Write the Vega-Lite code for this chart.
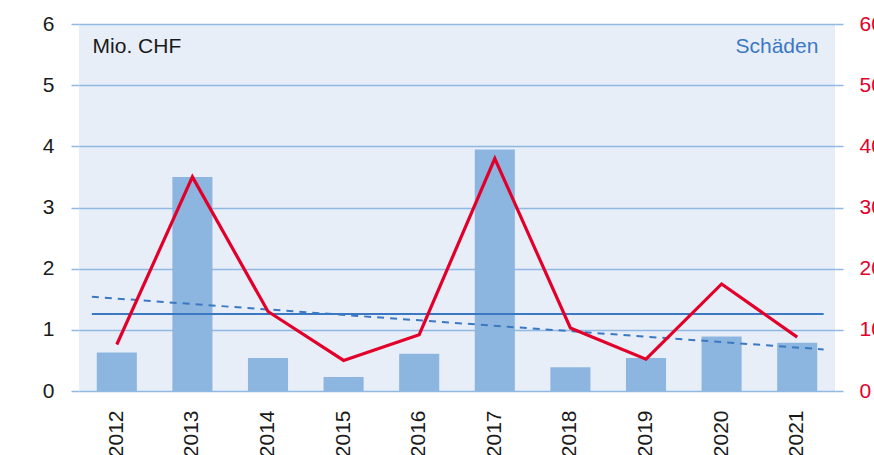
{
  "$schema": "https://vega.github.io/schema/vega-lite/v6.json",
  "width": 756,
  "height": 367,
  "autosize": {"type": "none"},
  "padding": {"left": 79, "top": 24, "right": 39, "bottom": 64},
  "background": "white",
  "view": {"fill": "#e8eef8", "stroke": null},
  "config": {
    "font": "Liberation Sans",
    "axis": {
      "labelFont": "Liberation Sans",
      "labelFontSize": 21,
      "labelColor": "#1a1a1a",
      "domain": false,
      "gridColor": "#8fb8e3",
      "gridWidth": 1.5,
      "tickColor": "#8fb8e3",
      "tickWidth": 1.5,
      "title": null
    }
  },
  "datasets": {
    "years": [
      {"year": 2012, "damage": 0.63, "count": 7.6},
      {"year": 2013, "damage": 3.5, "count": 35},
      {"year": 2014, "damage": 0.54, "count": 13},
      {"year": 2015, "damage": 0.23, "count": 5},
      {"year": 2016, "damage": 0.61, "count": 9.2},
      {"year": 2017, "damage": 3.95, "count": 38},
      {"year": 2018, "damage": 0.39, "count": 10.3},
      {"year": 2019, "damage": 0.54, "count": 5.2},
      {"year": 2020, "damage": 0.89, "count": 17.5},
      {"year": 2021, "damage": 0.79, "count": 8.8}
    ],
    "mean": [{"x": 2011.67, "x2": 2021.35, "y": 1.26}],
    "trend": [{"x": 2011.67, "y": 1.54}, {"x": 2021.35, "y": 0.68}],
    "unit": [{"x": 2011.68, "y": 5.63, "text": "Mio. CHF"}],
    "legend": [{"x": 2021.28, "y": 5.63, "text": "Schäden"}]
  },
  "layer": [
    {
      "data": {"name": "years"},
      "mark": {"type": "bar", "color": "#8cb6df"},
      "encoding": {
        "x": {
          "field": "year", "type": "ordinal",
          "scale": {"type": "band", "paddingInner": 0.47, "paddingOuter": 0.235},
          "axis": {"orient": "bottom", "labelAngle": -90, "ticks": false, "labelPadding": 19, "grid": false}
        },
        "y": {
          "field": "damage", "type": "quantitative",
          "scale": {"domain": [0, 6], "nice": false, "zero": true},
          "axis": {"orient": "left", "values": [0, 1, 2, 3, 4, 5, 6], "grid": true, "tickSize": 8, "labelPadding": 17}
        }
      }
    },
    {
      "data": {"name": "mean"},
      "mark": {"type": "rule", "color": "#3b78c2", "strokeWidth": 2},
      "encoding": {
        "x": {"field": "x", "type": "quantitative", "scale": {"domain": [2011.5, 2021.5], "nice": false, "zero": false}, "axis": null},
        "x2": {"field": "x2"},
        "y": {"field": "y", "type": "quantitative", "scale": {"domain": [0, 6], "nice": false}, "axis": null}
      }
    },
    {
      "data": {"name": "trend"},
      "mark": {"type": "line", "color": "#3b78c2", "strokeWidth": 2, "strokeDash": [7, 6]},
      "encoding": {
        "x": {"field": "x", "type": "quantitative", "scale": {"domain": [2011.5, 2021.5], "nice": false, "zero": false}, "axis": null},
        "y": {"field": "y", "type": "quantitative", "scale": {"domain": [0, 6], "nice": false}, "axis": null}
      }
    },
    {
      "data": {"name": "years"},
      "mark": {"type": "line", "color": "#e2002b", "strokeWidth": 3.2, "strokeJoin": "miter"},
      "encoding": {
        "x": {"field": "year", "type": "quantitative", "scale": {"domain": [2011.5, 2021.5], "nice": false, "zero": false}, "axis": null},
        "y": {
          "field": "count", "type": "quantitative",
          "scale": {"domain": [0, 60], "nice": false},
          "axis": {"orient": "right", "values": [0, 10, 20, 30, 40, 50, 60], "grid": false, "tickSize": 8, "labelPadding": 16, "labelColor": "#e2002b"}
        }
      }
    },
    {
      "data": {"name": "unit"},
      "mark": {"type": "text", "align": "left", "baseline": "middle", "fontSize": 21, "color": "#1a1a1a", "font": "Liberation Sans"},
      "encoding": {
        "x": {"field": "x", "type": "quantitative", "scale": {"domain": [2011.5, 2021.5], "nice": false, "zero": false}, "axis": null},
        "y": {"field": "y", "type": "quantitative", "scale": {"domain": [0, 6], "nice": false}, "axis": null},
        "text": {"field": "text"}
      }
    },
    {
      "data": {"name": "legend"},
      "mark": {"type": "text", "align": "right", "baseline": "middle", "fontSize": 21, "color": "#3b78c2", "font": "Liberation Sans"},
      "encoding": {
        "x": {"field": "x", "type": "quantitative", "scale": {"domain": [2011.5, 2021.5], "nice": false, "zero": false}, "axis": null},
        "y": {"field": "y", "type": "quantitative", "scale": {"domain": [0, 6], "nice": false}, "axis": null},
        "text": {"field": "text"}
      }
    }
  ],
  "resolve": {"scale": {"x": "independent", "y": "independent"}, "axis": {"x": "independent", "y": "independent"}}
}
